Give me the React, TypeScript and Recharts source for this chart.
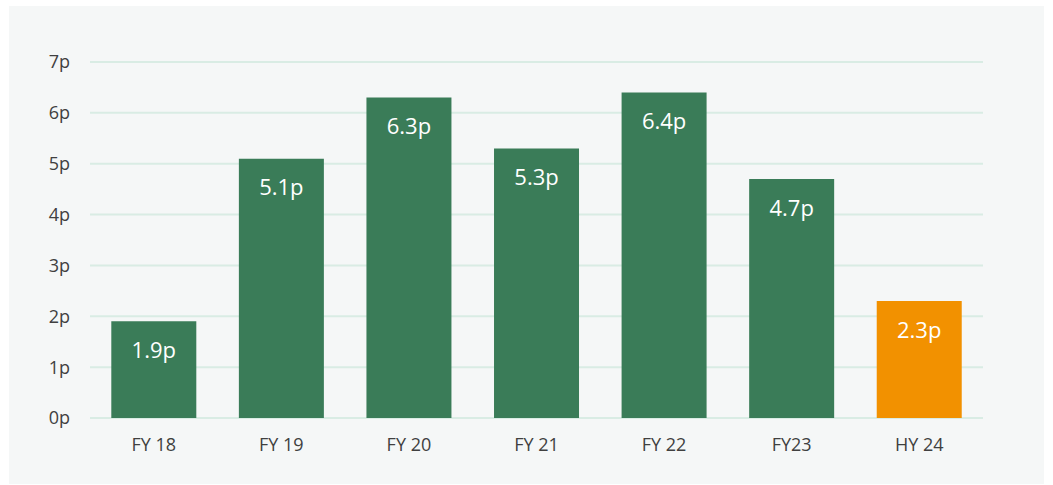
import React from "react";
import { BarChart, Bar, XAxis, YAxis, CartesianGrid, Cell, LabelList } from "recharts";

// Dividend per share by period, pence.
const periods = ["FY 18", "FY 19", "FY 20", "FY 21", "FY 22", "FY23", "HY 24"];
const pence = [1.9, 5.1, 6.3, 5.3, 6.4, 4.7, 2.3];
const yTicks = [0, 1, 2, 3, 4, 5, 6, 7];

const GREEN = "#3a7c58";
const ORANGE = "#f29100";
const INK = "#404040";
const GRID = "#d9ece4";
const font = "'Open Sans', sans-serif";

const data = periods.map((p, i) => ({ p, v: pence[i] }));

export default function App() {
  const tick = { fill: INK, fontSize: 18, fontFamily: font };
  return (
    <div style={{ position: "absolute", left: 0, top: 0, width: 1053, height: 485, background: "#fff" }}>
      <div style={{ position: "absolute", left: 9, top: 6, width: 1035, height: 478, background: "#f5f7f7" }} />
      <div style={{ position: "absolute", left: 0, top: 0 }}>
        <BarChart width={1053} height={485} data={data} margin={{ top: 62, right: 0, bottom: 27, left: 0 }}
          barCategoryGap="16.7%">
          <CartesianGrid stroke={GRID} strokeWidth={2} vertical={false} yAxisId="l" />
          <XAxis dataKey="p" tick={tick} axisLine={false} tickLine={false} tickSize={0} tickMargin={20} height={40} />
          <YAxis yAxisId="l" orientation="left" domain={[0, 7]} ticks={yTicks} tickFormatter={(v: number) => v + "p"}
            tick={tick} axisLine={false} tickLine={false} tickSize={0} tickMargin={20} width={90} />
          <YAxis yAxisId="r" orientation="right" domain={[0, 7]} ticks={yTicks} tickFormatter={(v: number) => v + "p"}
            tick={tick} axisLine={false} tickLine={false} tickSize={0} tickMargin={20} width={70} />
          <Bar yAxisId="l" dataKey="v" isAnimationActive={false}>
            {data.map((d, i) => (
              <Cell key={i} fill={d.p === "HY 24" ? ORANGE : GREEN} />
            ))}
            <LabelList dataKey="v" position="insideTop" offset={21} formatter={(v: any) => v + "p"}
              style={{ fill: "#fff", fontSize: 22, fontFamily: font }} />
          </Bar>
        </BarChart>
      </div>
    </div>
  );
}
